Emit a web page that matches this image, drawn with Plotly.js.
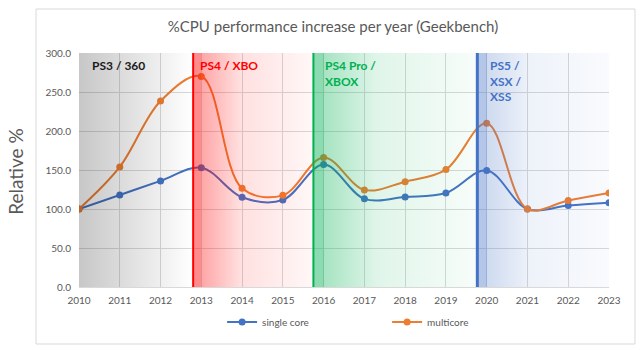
<!DOCTYPE html>
<html><head><meta charset="utf-8">
<script src="https://cdn.plot.ly/plotly-3.0.1.min.js"></script>
<style>html,body{margin:0;padding:0;background:#fff}#c{width:640px;height:350px}</style>
</head><body><div id="c"></div>
<script>
const years = [2010,2011,2012,2013,2014,2015,2016,2017,2018,2019,2020,2021,2022,2023];
const singleCore = [100,118,136,153,115,111.5,157,113,115.5,120.5,149.5,100,104.5,108];
const multiCore  = [100,154,238.5,270,126.5,117.5,166,124.5,135,150.5,210,100,111,120.5];
const yTicks = [0,50,100,150,200,250,300];

// console eras
const eraNames  = ['PS3 / 360','PS4 / XBO','PS4 Pro /<br>XBOX','PS5 /<br>XSX /<br>XSS'];
const eraStart  = [2010, 2012.8, 2015.75, 2019.77];
const eraEnd    = [2012.8, 2015.75, 2019.77, 2023];
const eraRGB    = ['0,0,0','255,0,0','0,176,80','68,114,196'];
const eraText   = ['#1a1a1a','#ff0000','#00b050','#4472c4'];
const eraLine   = [null,'#ff0000','#00b050','#4472c4'];
const eraLabelPad = [0.27, 0.12, 0.24, 0.26];

function gradURI(rgb, stops){
  let s = '<svg xmlns="http://www.w3.org/2000/svg" width="100" height="100" viewBox="0 0 100 100" preserveAspectRatio="none"><defs><linearGradient id="g" x1="0" y1="0" x2="1" y2="0">';
  stops.forEach(p => { s += '<stop offset="'+p[0]+'" stop-color="rgb('+rgb+')" stop-opacity="'+p[1]+'"/>'; });
  s += '</linearGradient></defs><rect x="0" y="0" width="100" height="100" fill="url(#g)"/></svg>';
  return 'data:image/svg+xml;charset=utf-8,' + encodeURIComponent(s);
}

const images = [];
const shapes = [];
const annotations = [];
eraStart.forEach((x0,i)=>{
  const w = eraEnd[i]-x0;
  let stops;
  if(i===0){ stops = [[0,0.22],[1,0.0]]; }
  else {
    const strip = (Math.ceil(x0)-x0)/w;
    const a = i===3 ? 0.40 : 0.45;
    const b = i===3 ? 0.26 : 0.35;
    const mid = strip + (1-strip)*0.35;
    stops = [[0,a],[strip,a],[strip+0.001,b],[mid,b*0.35],[1,0.03]];
  }
  images.push({source: gradURI(eraRGB[i], stops), xref:'x', yref:'y', x:x0, y:300, sizex:w, sizey:300,
    xanchor:'left', yanchor:'top', sizing:'stretch', layer:'above'});
  if(eraLine[i]) shapes.push({type:'line', xref:'x', yref:'y', x0:x0, x1:x0, y0:0, y1:300,
    line:{color:eraLine[i], width: i===3?3:2}, layer:'above'});
  annotations.push({text:'<b>'+eraNames[i]+'</b>', xref:'x', yref:'y', x:x0+eraLabelPad[i], y:296,
    xanchor:'left', yanchor:'top', align:'left', showarrow:false,
    font:{family:'Lato, sans-serif', size:12, color:eraText[i]}});
});

// chart border
shapes.push({type:'rect', xref:'paper', yref:'paper', x0:-0.0811, x1:1.049, y0:-0.2436, y1:1.188,
  line:{color:'#d9d9d9', width:1}, fillcolor:'rgba(0,0,0,0)', layer:'below'});

annotations.push({text:'Relative %', xref:'paper', yref:'paper', x:-0.121, y:(287-171)/234, textangle:-90,
  xanchor:'center', yanchor:'middle', showarrow:false, font:{family:'Lato, sans-serif', size:19, color:'#595959'}});

const traces = [
  {x:years, y:singleCore, name:'single core', type:'scatter', mode:'lines+markers',
   line:{color:'#4472c4', width:2, shape:'spline', smoothing:1}, marker:{color:'#4472c4', size:7}},
  {x:years, y:multiCore, name:'multicore', type:'scatter', mode:'lines+markers',
   line:{color:'#ed7d31', width:2, shape:'spline', smoothing:1}, marker:{color:'#ed7d31', size:7}}
];

const layout = {
  width:640, height:350,
  margin:{l:79, r:31, t:53, b:63, autoexpand:false},
  paper_bgcolor:'#fff', plot_bgcolor:'#fff',
  font:{family:'Lato, sans-serif', color:'#595959', size:10},
  title:{text:'%CPU performance increase per year (Geekbench)', x:333/640, xref:'container', y:1-27/350, xanchor:'center', yanchor:'middle',
    font:{family:'Lato, sans-serif', size:15, color:'#595959'}},
  xaxis:{range:[2010,2023], tickmode:'array', tickvals:years, ticktext:years.map(String),
    showgrid:true, gridcolor:'#d9d9d9', gridwidth:1, zeroline:false, showline:true, linecolor:'#d9d9d9',
    ticks:'outside', ticklen:4, tickcolor:'rgba(0,0,0,0)', tickfont:{size:10, color:'#595959'}, fixedrange:true},
  yaxis:{range:[0,300], tickmode:'array', tickvals:yTicks, ticktext:yTicks.map(v=>v.toFixed(1)),
    showgrid:true, gridcolor:'#d9d9d9', zeroline:false, showline:false,
    ticks:'outside', ticklen:5, tickcolor:'rgba(0,0,0,0)',
    tickfont:{size:10, color:'#595959'}, fixedrange:true},
  showlegend:true,
  legend:{orientation:'h', x:0.27, xanchor:'left', y:-0.15, yanchor:'middle', entrywidth:120, entrywidthmode:'pixels',
    font:{size:10, color:'#595959'}, bgcolor:'rgba(0,0,0,0)'},
  images:images, shapes:shapes, annotations:annotations
};
Plotly.newPlot('c', traces, layout, {displayModeBar:false, staticPlot:true});
</script></body></html>
